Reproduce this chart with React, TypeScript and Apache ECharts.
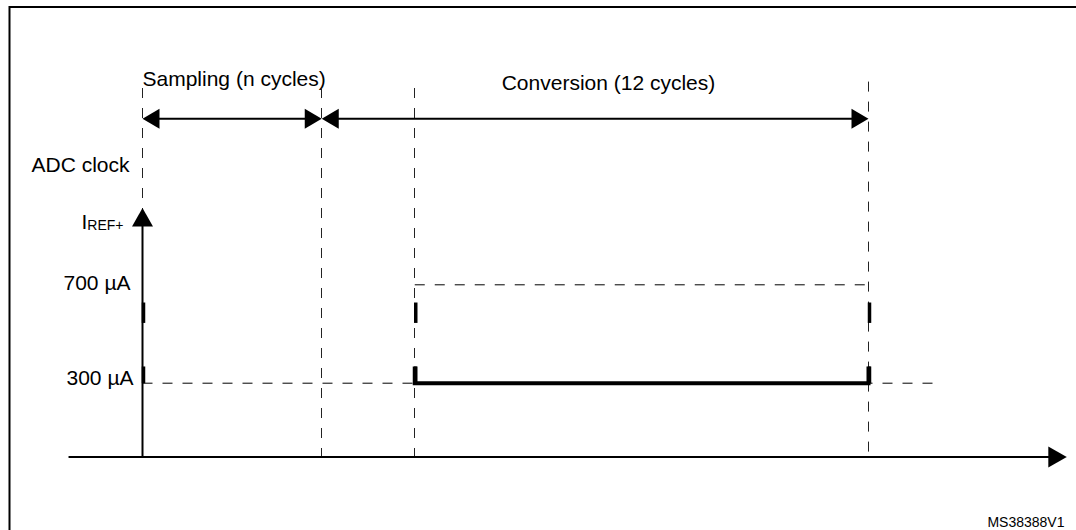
import React, { useEffect, useRef } from 'react';
import * as echarts from 'echarts';

// ---- data: time in ADC clock cycles, current in µA ----
const phaseNames = ['Sampling (n cycles)', 'Conversion (12 cycles)'];
const phaseStart = [0, 3.95];
const phaseEnd = [3.95, 16];
const phaseArrowLevel = 1375;

const markerTimes = [0, 3.95, 6, 16];
const markerTops = [1500, 1500, 1500, 1526];

const levelValues = [300, 700];
const levelLabels = ['300 µA', '700 µA'];
const levelFrom = [0, 6];
const levelTo = [17.6, 16.1];

const currentTimes = [6, 6, 16, 16];
const currentValues = [368, 300, 300, 368];

const edgeTimes = [0, 6, 16];
const edgeBands = [
  [300, 368],
  [545, 628],
];

const timeRange = [-1.63, 20.37];
const currentRange = [0, 1600];
const currentAxisTop = 1012;

const figureId = 'MS38388V1';
const clockLabel = 'ADC clock';

// ---- styling ----
const INK = '#000';
const FONT = '"Liberation Sans", Arial, Helvetica, sans-serif';

type Pt = number[];

function pull(p: Pt, toward: Pt, by: number): Pt {
  const dx = toward[0] - p[0];
  const dy = toward[1] - p[1];
  const d = Math.hypot(dx, dy) || 1;
  return [p[0] + (dx / d) * by, p[1] + (dy / d) * by];
}

function head(tip: Pt, from: Pt, len: number, half: number) {
  const dx = tip[0] - from[0];
  const dy = tip[1] - from[1];
  const d = Math.hypot(dx, dy) || 1;
  const ux = dx / d;
  const uy = dy / d;
  const bx = tip[0] - ux * len;
  const by = tip[1] - uy * len;
  return {
    type: 'polygon',
    shape: {
      points: [
        [tip[0], tip[1]],
        [bx - uy * half, by + ux * half],
        [bx + uy * half, by - ux * half],
      ],
    },
    style: { fill: INK, stroke: null },
  };
}

const crispX = (v: number) => Math.floor(v) + 0.5;

function segEnds(api: any): [Pt, Pt] {
  const a = api.coord([api.value(0), api.value(1)]);
  const b = api.coord([api.value(2), api.value(3)]);
  return [a, b];
}

function buildOption() {
  const markerData = markerTimes.map((t, i) => [t, markerTops[i], t, 0]);
  const levelData = levelValues.map((v, i) => [levelFrom[i], v, levelTo[i], v]);
  const axisData = [
    [0, 0, 0, currentAxisTop],
    [timeRange[0], 0, timeRange[1], 0],
  ];
  const phaseData = phaseNames.map((_, i) => [phaseStart[i], phaseArrowLevel, phaseEnd[i], phaseArrowLevel]);
  const edgeData: number[][] = [];
  edgeTimes.forEach((t) => edgeBands.forEach((b) => edgeData.push([t, b[0], t, b[1]])));
  const signalData = currentTimes.map((t, i) => [t, currentValues[i]]);

  const text = (x: number, y: number, s: string, size: number, align: string, extra: any = {}) => ({
    type: 'text',
    x,
    y,
    silent: true,
    style: {
      text: s,
      fill: INK,
      fontSize: size,
      fontFamily: FONT,
      textAlign: align,
      textVerticalAlign: 'middle',
      ...extra,
    },
  });

  const levelLabelPos = [
    [133.5, 377.5],
    [130.5, 282],
  ];

  return {
    animation: false,
    backgroundColor: '#fff',
    grid: { left: 68.54, right: 9.21, top: 63.4, bottom: 73, outerBoundsMode: 'none' },
    xAxis: { type: 'value', min: timeRange[0], max: timeRange[1], show: false },
    yAxis: { type: 'value', min: currentRange[0], max: currentRange[1], show: false },
    graphic: [
      {
        type: 'rect',
        silent: true,
        shape: { x: 9.5, y: 7, width: 1300, height: 700 },
        style: { fill: 'none', stroke: INK, lineWidth: 2 },
      },
      text(142.5, 78, phaseNames[0], 21, 'left'),
      text(608.5, 82.5, phaseNames[1], 21, 'center'),
      text(129.5, 164.5, clockLabel, 21, 'right'),
      {
        type: 'text',
        x: 123.5,
        y: 221.8,
        silent: true,
        style: {
          text: '{a|I}{b|REF+}',
          textAlign: 'right',
          textVerticalAlign: 'middle',
          rich: {
            a: { fontSize: 21, fontFamily: FONT, fill: INK, verticalAlign: 'bottom' },
            b: { fontSize: 14, fontFamily: FONT, fill: INK, verticalAlign: 'bottom' },
          },
        },
      },
      ...levelLabels.map((l, i) => text(levelLabelPos[i][0], levelLabelPos[i][1], l, 21, 'right')),
      text(1064.5, 521.5, figureId, 14, 'right'),
    ],
    series: [
      {
        name: 'markers',
        type: 'custom',
        silent: true,
        encode: { x: [0, 2], y: [1, 3] },
        data: markerData,
        renderItem: (_p: any, api: any) => {
          const [a, b] = segEnds(api);
          return {
            type: 'line',
            shape: { x1: crispX(a[0]), y1: a[1], x2: crispX(b[0]), y2: b[1] },
            style: { stroke: '#222', lineWidth: 1, lineDash: [10, 10], fill: null },
          };
        },
      },
      {
        name: 'levels',
        type: 'custom',
        silent: true,
        encode: { x: [0, 2], y: [1, 3] },
        data: levelData,
        renderItem: (_p: any, api: any) => {
          const [a, b] = segEnds(api);
          return {
            type: 'line',
            shape: { x1: a[0], y1: a[1], x2: b[0], y2: b[1] },
            style: { stroke: INK, lineWidth: 1, lineDash: [10, 10], fill: null },
          };
        },
      },
      {
        name: 'axes',
        type: 'custom',
        silent: true,
        encode: { x: [0, 2], y: [1, 3] },
        data: axisData,
        renderItem: (_p: any, api: any) => {
          const [a, b] = segEnds(api);
          const e = pull(b, a, 8);
          return {
            type: 'group',
            children: [
              { type: 'line', shape: { x1: a[0], y1: a[1], x2: e[0], y2: e[1] }, style: { stroke: INK, lineWidth: 2 } },
              head(b, a, 18.5, 10.5),
            ],
          };
        },
      },
      {
        name: 'phases',
        type: 'custom',
        silent: true,
        encode: { x: [0, 2], y: [1, 3] },
        data: phaseData,
        renderItem: (_p: any, api: any) => {
          const [a, b] = segEnds(api);
          const s = pull(a, b, 8);
          const e = pull(b, a, 8);
          return {
            type: 'group',
            children: [
              { type: 'line', shape: { x1: s[0], y1: s[1], x2: e[0], y2: e[1] }, style: { stroke: INK, lineWidth: 2 } },
              head(a, b, 17, 10),
              head(b, a, 17, 10),
            ],
          };
        },
      },
      {
        name: 'edges',
        type: 'custom',
        silent: true,
        encode: { x: [0, 2], y: [1, 3] },
        data: edgeData,
        renderItem: (_p: any, api: any) => {
          const [a, b] = segEnds(api);
          return {
            type: 'line',
            shape: { x1: a[0] + 1, y1: a[1], x2: b[0] + 1, y2: b[1] },
            style: { stroke: INK, lineWidth: 3.5 },
          };
        },
      },
      {
        name: 'IREF+',
        type: 'line',
        silent: true,
        data: signalData,
        symbol: 'none',
        lineStyle: { color: INK, width: 4, join: 'miter' },
      },
    ],
  };
}

export default function App() {
  const ref = useRef<HTMLDivElement>(null);
  useEffect(() => {
    if (!ref.current) return;
    const chart = echarts.init(ref.current, null, { renderer: 'svg' });
    chart.setOption(buildOption() as any);
    return () => chart.dispose();
  }, []);
  return (
    <div
      ref={ref}
      style={{ position: 'fixed', left: 0, top: 0, width: 1076, height: 530, background: '#fff' }}
    />
  );
}
